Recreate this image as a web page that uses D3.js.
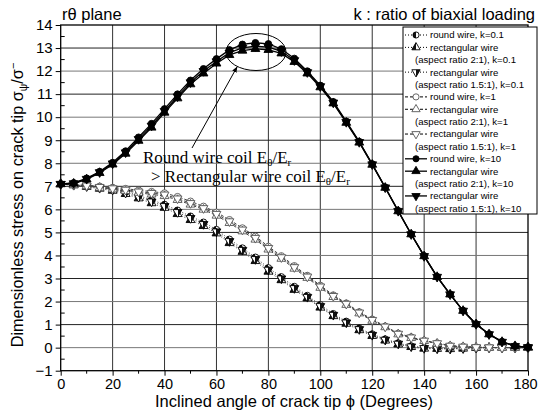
<!DOCTYPE html>
<html>
<head>
<meta charset="utf-8">
<script src="https://cdn.jsdelivr.net/npm/d3@7"></script>
<style>
  html, body { margin: 0; padding: 0; background: #fff; }
  svg { display: block; }
  text { font-family: "Liberation Sans", Arial, sans-serif; fill: #000; }
  .ser { font-family: "Liberation Serif", "Times New Roman", serif; }
</style>
</head>
<body>
<svg id="chart" width="539" height="414"></svg>
<script>
// angles of the crack tip, every 5 degrees
const angles = [0,5,10,15,20,25,30,35,40,45,50,55,60,65,70,75,80,85,90,95,100,105,110,115,120,125,130,135,140,145,150,155,160,165,170,175,180];

// k = 0.1
const k01Round  = [7.10,7.07,7.02,6.96,6.89,6.77,6.60,6.41,6.21,5.96,5.70,5.44,5.12,4.70,4.32,3.92,3.46,3.07,2.65,2.26,1.86,1.47,1.14,0.84,0.59,0.37,0.20,0.07,0.00,-0.03,-0.04,-0.02,-0.01,0.00,0.00,0.00,0.00];
const k01Rect2  = [7.10,7.05,6.98,6.90,6.81,6.67,6.48,6.27,6.07,5.80,5.54,5.28,4.96,4.54,4.16,3.76,3.30,2.93,2.51,2.14,1.74,1.37,1.04,0.76,0.51,0.31,0.14,0.03,-0.04,-0.05,-0.06,-0.04,-0.01,0.00,0.00,0.00,0.00];
const k01Rect15 = [7.10,7.06,7.00,6.93,6.85,6.72,6.54,6.34,6.14,5.88,5.62,5.36,5.04,4.62,4.24,3.84,3.38,3.00,2.58,2.20,1.80,1.42,1.09,0.80,0.55,0.34,0.17,0.05,-0.02,-0.04,-0.05,-0.03,-0.01,0.00,0.00,0.00,0.00];
// k = 1
const k1Round   = [7.10,7.07,7.05,7.00,6.95,6.90,6.83,6.77,6.71,6.55,6.35,6.13,5.87,5.55,5.19,4.83,4.39,3.98,3.55,3.13,2.70,2.28,1.93,1.55,1.23,0.93,0.62,0.46,0.31,0.20,0.09,0.05,0.02,0.01,0.00,0.00,0.00];
const k1Rect2   = [7.10,7.05,7.01,6.94,6.87,6.80,6.72,6.65,6.58,6.41,6.21,5.99,5.73,5.41,5.05,4.69,4.26,3.86,3.43,3.03,2.60,2.20,1.86,1.49,1.17,0.89,0.58,0.42,0.29,0.18,0.07,0.03,0.01,0.00,0.00,0.00,0.00];
const k1Rect15  = [7.10,7.06,7.03,6.97,6.91,6.85,6.77,6.71,6.64,6.47,6.27,6.05,5.80,5.48,5.12,4.76,4.32,3.92,3.49,3.08,2.65,2.24,1.90,1.52,1.20,0.91,0.60,0.44,0.30,0.19,0.08,0.04,0.02,0.01,0.00,0.00,0.00];
// k = 10
const k10Round  = [7.10,7.15,7.35,7.64,8.03,8.53,9.13,9.72,10.36,11.00,11.60,12.10,12.53,12.92,13.16,13.23,13.18,12.96,12.55,12.00,11.38,10.67,9.82,8.94,7.97,6.96,5.94,4.93,3.98,3.08,2.32,1.61,1.03,0.59,0.26,0.07,0.02];
const k10Rect2  = [7.10,7.12,7.30,7.58,7.95,8.42,8.98,9.55,10.20,10.82,11.43,11.90,12.33,12.70,12.89,12.96,12.92,12.77,12.40,11.90,11.30,10.60,9.76,8.90,7.94,6.94,5.92,4.92,3.97,3.07,2.31,1.60,1.02,0.58,0.25,0.07,0.02];
const k10Rect15 = [7.10,7.13,7.32,7.61,7.99,8.47,9.05,9.63,10.27,10.90,11.51,12.00,12.42,12.80,13.01,13.08,13.04,12.86,12.47,11.95,11.34,10.63,9.79,8.92,7.95,6.95,5.93,4.92,3.97,3.07,2.31,1.60,1.02,0.58,0.25,0.07,0.02];

const xTicks = [0,20,40,60,80,100,120,140,160,180];
const yTicks = [-1,0,1,2,3,4,5,6,7,8,9,10,11,12,13,14];

// one entry per legend row pair: values, marker, style
const series = [
  { name: 'round wire, k=0.1',        sub: null,                         v: k01Round,  sym: 'circle', fill: 'half', dash: '1,2' },
  { name: 'rectangular wire',         sub: '(aspect ratio 2:1), k=0.1',   v: k01Rect2,  sym: 'up',     fill: 'half', dash: '1,2' },
  { name: 'rectangular wire',         sub: '(aspect ratio 1.5:1), k=0.1', v: k01Rect15, sym: 'down',   fill: 'half', dash: '1,2' },
  { name: 'round wire, k=1',          sub: null,                         v: k1Round,   sym: 'circle', fill: 'open', dash: '3,2' },
  { name: 'rectangular wire',         sub: '(aspect ratio 2:1), k=1',     v: k1Rect2,   sym: 'up',     fill: 'open', dash: '3,2' },
  { name: 'rectangular wire',         sub: '(aspect ratio 1.5:1), k=1',   v: k1Rect15,  sym: 'down',   fill: 'open', dash: '3,2' },
  { name: 'round wire, k=10',         sub: null,                         v: k10Round,  sym: 'circle', fill: 'full', dash: null },
  { name: 'rectangular wire',         sub: '(aspect ratio 2:1), k=10',    v: k10Rect2,  sym: 'up',     fill: 'full', dash: null },
  { name: 'rectangular wire',         sub: '(aspect ratio 1.5:1), k=10',  v: k10Rect15, sym: 'down',   fill: 'full', dash: null },
];

const M = { l: 60.7, r: 528, t: 25, b: 370.7 };
const svg = d3.select('#chart');
const x = d3.scaleLinear().domain([0, 180]).range([M.l, M.r]);
const y = d3.scaleLinear().domain([-1, 14]).range([M.b, M.t]);

// half-filled marker gradient
const defs = svg.append('defs');
const grad = defs.append('linearGradient').attr('id', 'half').attr('x1', 0).attr('x2', 1).attr('y1', 0).attr('y2', 0);
grad.append('stop').attr('offset', '50%').attr('stop-color', '#111');
grad.append('stop').attr('offset', '50%').attr('stop-color', '#fff');

// grid
const grid = svg.append('g');
grid.selectAll('line.gx').data(xTicks.slice(1, -1)).join('line')
  .attr('x1', d => x(d)).attr('x2', d => x(d)).attr('y1', M.t).attr('y2', M.b)
  .attr('stroke', '#333').attr('stroke-width', 1);
grid.selectAll('line.gy').data(yTicks.slice(1, -1)).join('line')
  .attr('x1', M.l).attr('x2', M.r).attr('y1', d => y(d)).attr('y2', d => y(d))
  .attr('stroke', d => d % 2 ? '#222' : '#777').attr('stroke-width', 1);

// axes
const xAxis = svg.append('g').attr('transform', `translate(0,${M.b})`)
  .call(d3.axisBottom(x).tickValues(xTicks).tickSize(5).tickPadding(3).tickSizeOuter(0));
const yAxis = svg.append('g').attr('transform', `translate(${M.l},0)`)
  .call(d3.axisLeft(y).tickValues(yTicks).tickSize(5).tickPadding(3).tickSizeOuter(0));
[xAxis, yAxis].forEach(g => {
  g.select('.domain').remove();
  g.selectAll('text').attr('font-size', 15).style('font-family', '"Liberation Sans", Arial, sans-serif');
  g.selectAll('line').attr('stroke', '#000');
});
xAxis.selectAll('text').attr('font-size', 14.5);
xAxis.selectAll('.tick').filter(d => d === 180).select('text').attr('dx', -3);
// minor ticks
svg.append('g').selectAll('line').data(d3.range(10, 180, 20)).join('line')
  .attr('x1', d => x(d)).attr('x2', d => x(d)).attr('y1', M.b).attr('y2', M.b + 3).attr('stroke', '#000');
svg.append('g').selectAll('line').data(d3.range(-0.5, 14, 1)).join('line')
  .attr('x1', M.l).attr('x2', M.l + 4).attr('y1', d => y(d)).attr('y2', d => y(d)).attr('stroke', '#000');

// frame
svg.append('rect').attr('x', M.l).attr('y', M.t).attr('width', M.r - M.l).attr('height', M.b - M.t)
  .attr('fill', 'none').attr('stroke', '#000').attr('stroke-width', 1.3);

// symbols
const symPath = (s, size) => {
  const t = s === 'circle' ? d3.symbolCircle : d3.symbolTriangle;
  return d3.symbol().type(t).size(size)();
};
const fillOf = f => f === 'full' ? '#000' : f === 'half' ? 'url(#half)' : '#fff';
const strokeOf = f => f === 'open' ? '#555' : '#000';

const line = d3.line().x((d, i) => x(angles[i])).y(d => y(d));
const plot = svg.append('g');
series.forEach(s => {
  plot.append('path').datum(s.v).attr('d', line).attr('fill', 'none')
    .attr('stroke', s.dash ? '#444' : '#000').attr('stroke-width', s.dash ? 1 : 1.3)
    .attr('stroke-dasharray', s.dash);
  plot.append('g').selectAll('path').data(s.v).join('path')
    .attr('d', symPath(s.sym, 34))
    .attr('transform', (d, i) => `translate(${x(angles[i])},${y(d)})${s.sym === 'down' ? ' rotate(180)' : ''}`)
    .attr('fill', fillOf(s.fill)).attr('stroke', strokeOf(s.fill)).attr('stroke-width', 0.9);
});

// annotation
svg.append('ellipse').attr('cx', 256).attr('cy', 52).attr('rx', 30).attr('ry', 18.5)
  .attr('fill', 'none').attr('stroke', '#000').attr('stroke-width', 1);
defs.append('marker').attr('id', 'arr').attr('viewBox', '0 0 10 10').attr('refX', 9).attr('refY', 5)
  .attr('markerWidth', 6).attr('markerHeight', 6).attr('orient', 'auto')
  .append('path').attr('d', 'M0,1 L10,5 L0,9 z').attr('fill', '#000');
svg.append('line').attr('x1', 192).attr('y1', 148).attr('x2', 237).attr('y2', 67)
  .attr('stroke', '#000').attr('stroke-width', 1).attr('marker-end', 'url(#arr)');
const ann1 = svg.append('text').attr('class', 'ser').attr('x', 143).attr('y', 163).attr('font-size', 17);
ann1.append('tspan').text('Round wire coil E');
ann1.append('tspan').attr('font-size', 11).attr('dy', 3).text('θ');
ann1.append('tspan').attr('dy', -3).text('/E');
ann1.append('tspan').attr('font-size', 11).attr('dy', 3).text('r');
const ann2 = svg.append('text').attr('class', 'ser').attr('x', 151).attr('y', 181.5).attr('font-size', 17);
ann2.append('tspan').text('> Rectangular wire coil E');
ann2.append('tspan').attr('font-size', 11).attr('dy', 3).text('θ');
ann2.append('tspan').attr('dy', -3).text('/E');
ann2.append('tspan').attr('font-size', 11).attr('dy', 3).text('r');

// top labels
svg.append('text').attr('x', 62).attr('y', 20).attr('font-size', 16.5).text('rθ plane');
svg.append('text').attr('x', 535).attr('y', 20).attr('font-size', 16.5).attr('text-anchor', 'end')
  .text('k : ratio of biaxial loading');

// axis titles
svg.append('text').attr('x', 294).attr('y', 407).attr('font-size', 16.5).attr('text-anchor', 'middle')
  .text('Inclined angle of crack tip ϕ (Degrees)');
const yt = svg.append('text').attr('transform', 'translate(23,205) rotate(-90)')
  .attr('font-size', 16.3).attr('text-anchor', 'middle');
yt.append('tspan').text('Dimensionless stress on crack tip σ');
yt.append('tspan').attr('font-size', 10.5).attr('dy', 4).text('ψ');
yt.append('tspan').attr('dy', -4).text('/σ');
yt.append('tspan').attr('font-size', 11).attr('dy', -6).text('−');

// legend
const lg = svg.append('g');
lg.append('rect').attr('x', 403).attr('y', 27).attr('width', 134).attr('height', 187)
  .attr('fill', '#fff').attr('stroke', '#000').attr('stroke-width', 1);
const step = 12.38;
let row = 0;
series.forEach(s => {
  const cy = 35 + row * step;
  lg.append('line').attr('x1', 405).attr('x2', 427).attr('y1', cy).attr('y2', cy)
    .attr('stroke', '#000').attr('stroke-width', s.dash ? 1 : 1.3).attr('stroke-dasharray', s.dash);
  lg.append('path').attr('d', symPath(s.sym, 30))
    .attr('transform', `translate(416,${cy})${s.sym === 'down' ? ' rotate(180)' : ''}`)
    .attr('fill', fillOf(s.fill)).attr('stroke', strokeOf(s.fill)).attr('stroke-width', 0.9);
  lg.append('text').attr('x', 430).attr('y', cy + 3.4).attr('font-size', 9.6).text(s.name);
  row++;
  if (s.sub) {
    lg.append('text').attr('x', 415).attr('y', 35 + row * step + 3.4).attr('font-size', 9.6).text(s.sub);
    row++;
  }
});
</script>
</body>
</html>
